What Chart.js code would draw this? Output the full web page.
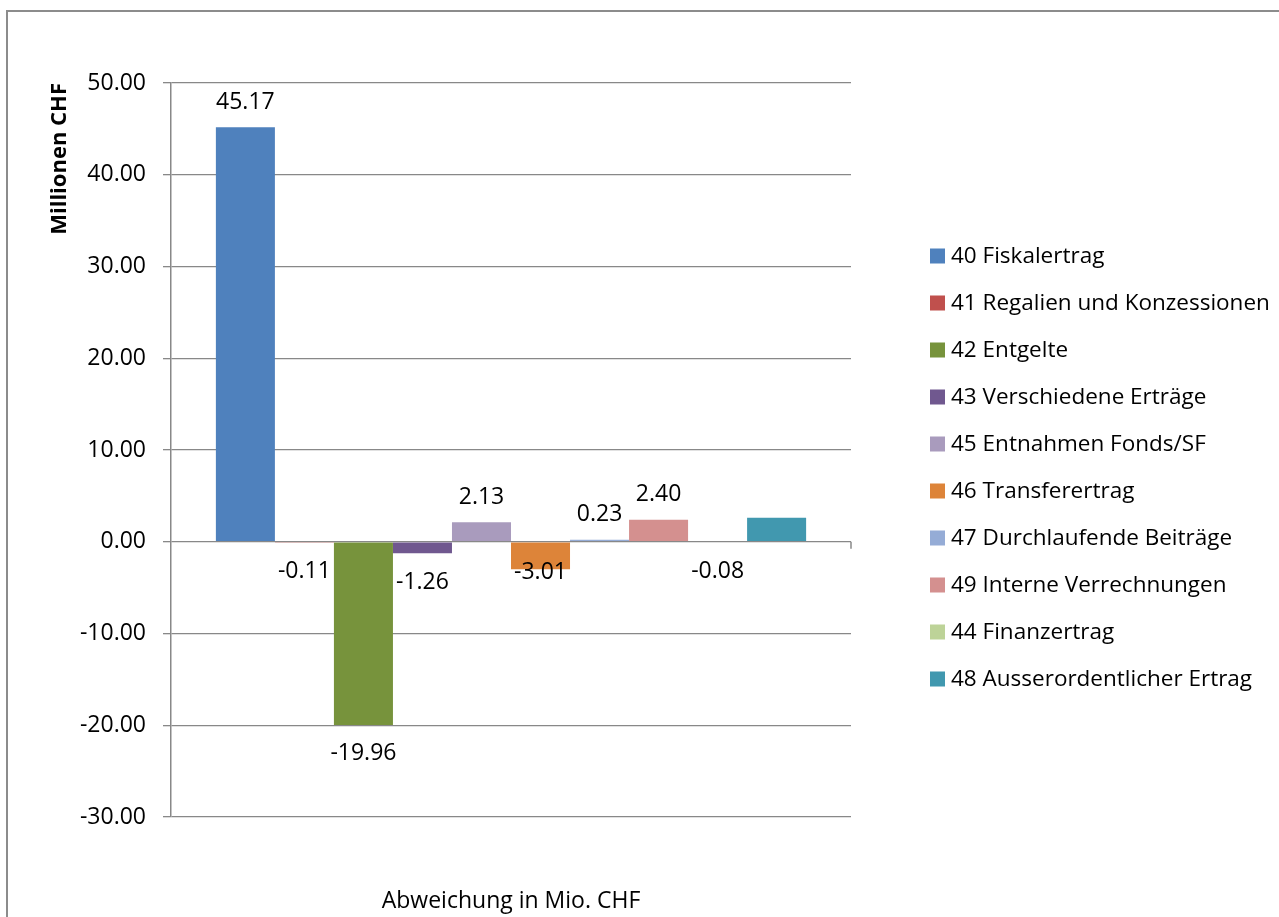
<!DOCTYPE html>
<html>
<head>
<meta charset="utf-8">
<script src="https://cdn.jsdelivr.net/npm/chart.js@4"></script>
<style>
  body{margin:0;background:#fff;}
  #wrap{position:absolute;left:0;top:0;width:1279px;height:917px;}
  #frame{position:absolute;left:6px;top:10px;width:1400px;height:1000px;border-left:2px solid #8c8c8c;border-top:2px solid #8c8c8c;pointer-events:none;}
</style>
</head>
<body>
<div id="wrap"><canvas id="barChart"></canvas></div>
<div id="frame"></div>
<script>
// Daten
const category = ['Abweichung in Mio. CHF'];
const seriesNames = ['40 Fiskalertrag','41 Regalien und Konzessionen','42 Entgelte','43 Verschiedene Erträge','45 Entnahmen Fonds/SF','46 Transferertrag','47 Durchlaufende Beiträge','49 Interne Verrechnungen','44 Finanzertrag','48 Ausserordentlicher Ertrag'];
const seriesValues = [45.17, -0.11, -19.96, -1.26, 2.13, -3.01, 0.23, 2.40, -0.08, 2.62];
const showLabel = [true,true,true,true,true,true,true,true,true,false];
const yTicks = [-30,-20,-10,0,10,20,30,40,50];

const colors = ['#4f81bd','#c0504d','#77933c','#70588f','#a99bbd','#dd8439','#95acd6','#d4908f','#bdd398','#4198af'];
const labelNudge = [0,0,0,0,0,-26,0,0,0,0];

const FONT = "'Open Sans', sans-serif";
const GRID = '#888888';

// Datenbeschriftungen + Legende
const extras = {
  id:'extras',
  afterDatasetsDraw(chart){
    const ctx = chart.ctx;
    ctx.save();
    ctx.font = '23px ' + FONT;
    ctx.fillStyle = '#000';
    ctx.textAlign = 'center';
    ctx.textBaseline = 'middle';
    chart.data.datasets.forEach((ds,i)=>{
      if(!showLabel[i]) return;
      const el = chart.getDatasetMeta(i).data[0];
      const v = ds.data[0];
      const y = v >= 0 ? el.y - 25 : el.y + 29 + labelNudge[i];
      ctx.fillText(v.toFixed(2), el.x, y);
    });
    // kleiner Teilstrich am Ende der Rubrikenachse
    const zy = chart.scales.y.getPixelForValue(0);
    const r = chart.chartArea.right;
    ctx.strokeStyle = GRID;
    ctx.lineWidth = 1.5;
    ctx.beginPath();
    ctx.moveTo(r, zy);
    ctx.lineTo(r, zy + 7);
    ctx.stroke();

    // Legende rechts
    const lx = 930, ly = 256, step = 47;
    ctx.font = '22.5px ' + FONT;
    ctx.textAlign = 'left';
    chart.data.datasets.forEach((ds,i)=>{
      const cy = ly + i*step;
      ctx.fillStyle = ds.backgroundColor;
      ctx.fillRect(lx, cy - 7.5, 15, 15);
      ctx.fillStyle = '#000';
      ctx.fillText(ds.label, lx + 21, cy + 1);
    });
    ctx.restore();
  }
};

new Chart(document.getElementById('barChart'),{
  type:'bar',
  data:{
    labels:category,
    datasets:seriesNames.map((n,i)=>({
      label:n,
      data:[seriesValues[i]],
      backgroundColor:colors[i],
      borderWidth:0
    }))
  },
  options:{
    responsive:true,
    maintainAspectRatio:false,
    animation:false,
    categoryPercentage:0.868,
    barPercentage:1,
    layout:{padding:{top:83,right:428,bottom:0,left:0}},
    plugins:{
      legend:{display:false},
      tooltip:{enabled:false}
    },
    scales:{
      x:{
        position:'bottom',
        grid:{display:false,drawTicks:false},
        border:{display:false},
        ticks:{color:'#000',padding:71,font:{family:FONT,size:23}},
        afterFit(s){ s.height = 100; }
      },
      y:{
        position:'left',
        min:yTicks[0],
        max:yTicks[yTicks.length-1],
        afterBuildTicks(s){ s.ticks = yTicks.map(v=>({value:v})); },
        grid:{color:GRID,lineWidth:1.3,tickLength:8},
        border:{color:GRID,width:1.5},
        ticks:{color:'#000',padding:17,font:{family:FONT,size:23},callback:v=>v.toFixed(2)},
        title:{display:true,text:'Millionen CHF',align:'end',color:'#000',
          font:{family:FONT,size:22,weight:'bold'},padding:{top:47}},
        afterFit(s){ s.width = 171; }
      }
    }
  },
  plugins:[extras]
});
</script>
</body>
</html>
